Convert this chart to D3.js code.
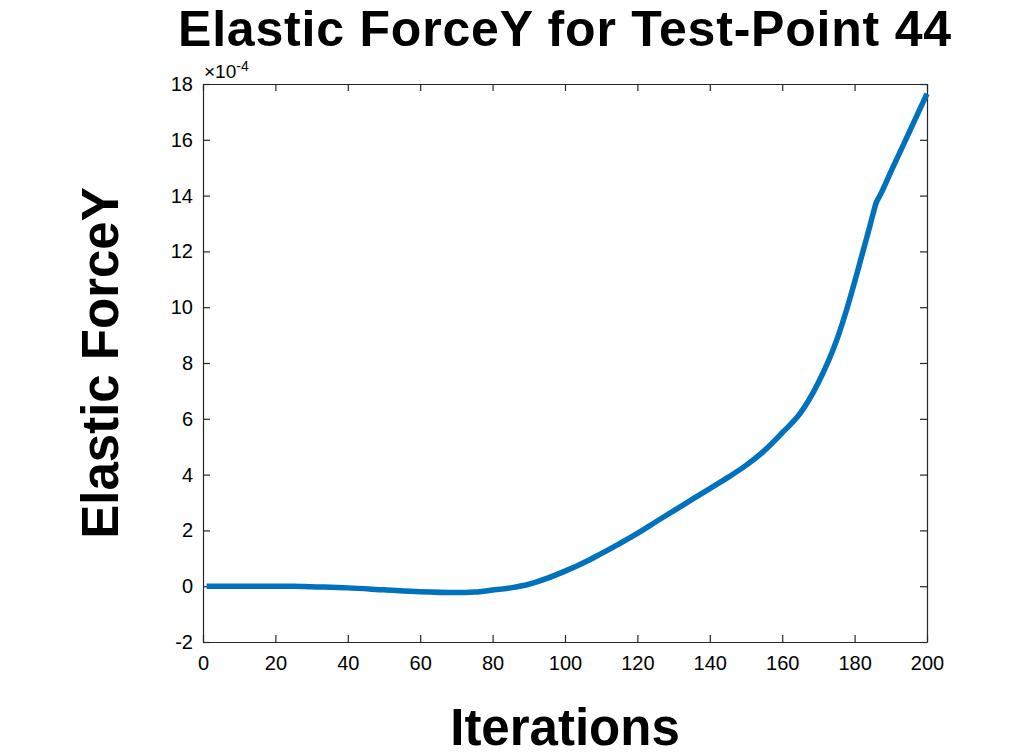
<!DOCTYPE html>
<html>
<head>
<meta charset="utf-8">
<script src="https://cdn.jsdelivr.net/npm/d3@7/dist/d3.min.js"></script>
<style>
  html, body { margin: 0; padding: 0; background: #fff; }
  svg { display: block; }
  text { font-family: "Liberation Sans", Arial, Helvetica, sans-serif; fill: #000; }
</style>
</head>
<body>
<svg id="chart" width="1031" height="756"></svg>
<script>
// Data (values in units of 1e-4)
const iterations = [1, 10, 20, 25, 30, 40, 50, 60, 70, 75, 80, 85, 90, 95, 100, 105, 110, 115, 120, 125, 130, 135, 140, 145, 150, 155, 160, 165, 170, 175, 178, 180, 182, 184, 185, 186, 187, 190, 195, 200];
const forceY = [0, 0, 0, 0, -0.02, -0.06, -0.13, -0.2, -0.23, -0.21, -0.14, -0.06, 0.07, 0.28, 0.54, 0.83, 1.17, 1.52, 1.89, 2.3, 2.7, 3.1, 3.5, 3.9, 4.33, 4.85, 5.5, 6.2, 7.3, 8.8, 10.0, 10.9, 11.85, 12.8, 13.3, 13.75, 14.0, 14.85, 16.25, 17.65];
const xTicks = [0, 20, 40, 60, 80, 100, 120, 140, 160, 180, 200];
const yTicks = [-2, 0, 2, 4, 6, 8, 10, 12, 14, 16, 18];
const titleText = "Elastic ForceY for Test-Point 44";
const xLabelText = "Iterations";
const yLabelText = "Elastic ForceY";

const svg = d3.select("#chart");
const L = 203, R = 927, T = 84, B = 642;

const x = d3.scaleLinear().domain([0, 200]).range([L, R]);
const y = d3.scaleLinear().domain([-2, 18]).range([B, T]);

const tickLen = 7;
const fmt = d => String(d);
const g = svg.append("g");

const xAxisB = d3.axisBottom(x).tickValues(xTicks).tickFormat(fmt).tickSizeInner(-tickLen).tickSizeOuter(0).tickPadding(14);
const gxb = g.append("g").attr("transform", `translate(0,${B})`).call(xAxisB);
const xAxisT = d3.axisTop(x).tickValues(xTicks).tickSizeInner(-tickLen).tickSizeOuter(0).tickFormat("");
const gxt = g.append("g").attr("transform", `translate(0,${T})`).call(xAxisT);
const yAxisL = d3.axisLeft(y).tickValues(yTicks).tickFormat(fmt).tickSizeInner(-tickLen).tickSizeOuter(0).tickPadding(10);
const gyl = g.append("g").attr("transform", `translate(${L},0)`).call(yAxisL);
const yAxisR = d3.axisRight(y).tickValues(yTicks).tickSizeInner(-tickLen).tickSizeOuter(0).tickFormat("");
const gyr = g.append("g").attr("transform", `translate(${R},0)`).call(yAxisR);

[gxb, gxt, gyl, gyr].forEach(a => {
  a.selectAll(".domain").attr("stroke", "#262626").attr("stroke-width", 1.2);
  a.selectAll(".tick line").attr("stroke", "#262626").attr("stroke-width", 1.2);
  a.selectAll(".tick text").attr("font-size", 20).attr("fill", "#262626")
    .style("font-family", "'Liberation Sans', Arial, sans-serif");
});
gxb.selectAll(".tick text").attr("dy", "0.71em");

const line = d3.line().x((d, i) => x(iterations[i])).y(d => y(d)).curve(d3.curveMonotoneX);
g.append("path")
  .datum(forceY)
  .attr("fill", "none")
  .attr("stroke", "#0072BD")
  .attr("stroke-width", 5.5)
  .attr("stroke-linejoin", "round")
  .attr("d", line);

const ex = g.append("text").attr("x", L + 1).attr("y", T - 6).attr("font-size", 19).attr("fill", "#262626");
ex.append("tspan").text("\u00D710");
ex.append("tspan").attr("dy", -7).attr("font-size", 14).text("-4");

svg.append("text").attr("x", (L + R) / 2).attr("y", 45.5).attr("text-anchor", "middle")
  .attr("font-size", 50).attr("font-weight", "bold").attr("letter-spacing", 0.8).text(titleText);
svg.append("text").attr("x", (L + R) / 2).attr("y", 745).attr("text-anchor", "middle")
  .attr("font-size", 51).attr("font-weight", "bold").text(xLabelText);
svg.append("text").attr("transform", `translate(118,${(T + B) / 2}) rotate(-90)`).attr("text-anchor", "middle")
  .attr("font-size", 51).attr("font-weight", "bold").text(yLabelText);
</script>
</body>
</html>
